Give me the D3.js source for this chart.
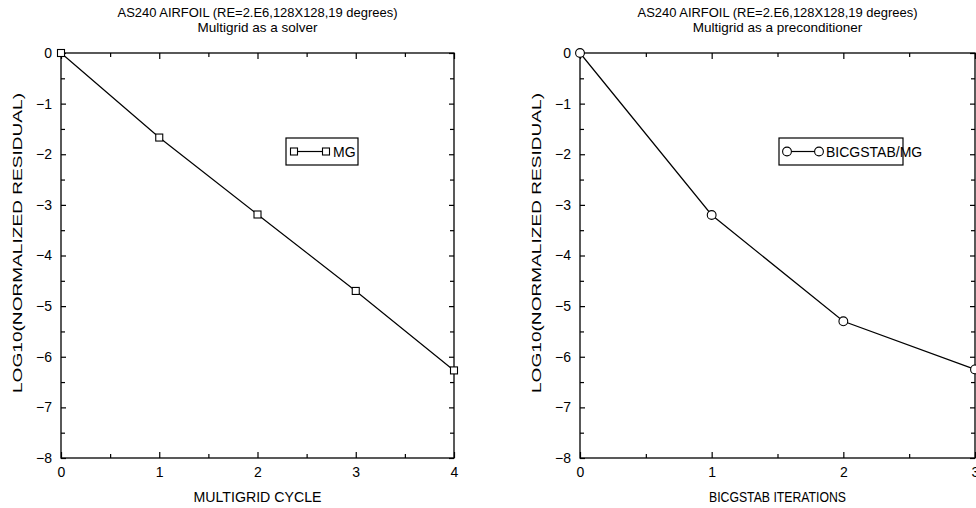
<!DOCTYPE html>
<html><head><meta charset="utf-8">
<script src="https://cdn.jsdelivr.net/npm/d3@7"></script>
<style>
body{margin:0;background:#fff;}
svg text{font-family:"Liberation Sans",Arial,Helvetica,sans-serif;fill:#000;}
</style></head>
<body><svg id="c" width="976" height="508"></svg>
<script>
// ---- data ----
const titleLine1 = "AS240 AIRFOIL (RE=2.E6,128X128,19 degrees)";
const leftSubtitle = "Multigrid as a solver";
const rightSubtitle = "Multigrid as a preconditioner";
const yLabel = "LOG10(NORMALIZED RESIDUAL)";
const leftXLabel = "MULTIGRID CYCLE";
const rightXLabel = "BICGSTAB ITERATIONS";
const leftLegend = "MG";
const rightLegend = "BICGSTAB/MG";
const mgCycles = [0, 1, 2, 3, 4];
const mgResidual = [0, -1.67, -3.19, -4.70, -6.27];
const bicgIters = [0, 1, 2, 3];
const bicgResidual = [0, -3.2, -5.3, -6.25];
const yTicks = [0, -1, -2, -3, -4, -5, -6, -7, -8];
const leftXTicks = [0, 1, 2, 3, 4];
const rightXTicks = [0, 1, 2, 3];

const svg = d3.select("#c");
const plotTop = 53, plotBottom = 458;

function panel(opts){
  const g = svg.append("g");
  const x = d3.scaleLinear().domain(opts.xDomain).range([opts.x0, opts.x1]);
  const y = d3.scaleLinear().domain([-8, 0]).range([plotBottom, plotTop]);
  const fmt = d => d < 0 ? "\u2212" + Math.abs(d) : String(d);
  const xMinor = d3.range(opts.xDomain[0] + 0.5, opts.xDomain[1], 1);
  const yMinor = d3.range(-7.5, 0, 1);

  g.append("rect").attr("x", opts.x0).attr("y", plotTop)
    .attr("width", opts.x1 - opts.x0).attr("height", plotBottom - plotTop)
    .attr("fill", "none").attr("stroke", "#000").attr("stroke-width", 1.3);

  const style = a => { a.select(".domain").remove();
    a.selectAll("line").attr("stroke", "#000").attr("stroke-width", 1.2);
    a.selectAll("text").attr("font-size", 14).attr("fill", "#000")
      .attr("font-family", "'Liberation Sans',Arial,sans-serif"); };

  g.append("g").attr("transform", `translate(0,${plotBottom})`)
    .call(d3.axisBottom(x).tickValues(opts.xTicks).tickFormat(fmt).tickSizeInner(-6).tickSizeOuter(0).tickPadding(9))
    .call(style);
  g.append("g").attr("transform", `translate(0,${plotBottom})`)
    .call(d3.axisBottom(x).tickValues(xMinor).tickFormat("").tickSizeInner(-4).tickSizeOuter(0)).call(style);
  g.append("g").attr("transform", `translate(0,${plotTop})`)
    .call(d3.axisTop(x).tickValues(opts.xTicks).tickFormat("").tickSizeInner(-6).tickSizeOuter(0)).call(style);
  g.append("g").attr("transform", `translate(0,${plotTop})`)
    .call(d3.axisTop(x).tickValues(xMinor).tickFormat("").tickSizeInner(-4).tickSizeOuter(0)).call(style);
  g.append("g").attr("transform", `translate(${opts.x0},0)`)
    .call(d3.axisLeft(y).tickValues(yTicks).tickFormat(fmt).tickSizeInner(-5).tickSizeOuter(0).tickPadding(9))
    .call(style);
  g.append("g").attr("transform", `translate(${opts.x0},0)`)
    .call(d3.axisLeft(y).tickValues(yMinor).tickFormat("").tickSizeInner(-4).tickSizeOuter(0)).call(style);
  g.append("g").attr("transform", `translate(${opts.x1},0)`)
    .call(d3.axisRight(y).tickValues(yTicks).tickFormat("").tickSizeInner(-5).tickSizeOuter(0)).call(style);
  g.append("g").attr("transform", `translate(${opts.x1},0)`)
    .call(d3.axisRight(y).tickValues(yMinor).tickFormat("").tickSizeInner(-4).tickSizeOuter(0)).call(style);

  const cx = (opts.x0 + opts.x1) / 2;
  g.append("text").attr("x", cx).attr("y", 17).attr("text-anchor", "middle").attr("font-size", 13.5)
    .attr("textLength", 280).attr("lengthAdjust", "spacingAndGlyphs").text(titleLine1);
  g.append("text").attr("x", cx).attr("y", 31.5).attr("text-anchor", "middle").attr("font-size", 13.5).text(opts.subtitle);
  g.append("text").attr("x", cx).attr("y", 502).attr("text-anchor", "middle").attr("font-size", 14.5)
    .attr("textLength", opts.xLabelLen).attr("lengthAdjust", "spacingAndGlyphs").text(opts.xLabel);
  g.append("text").attr("transform", `translate(${opts.yLabelX},243) rotate(-90)`)
    .attr("text-anchor", "middle").attr("font-size", 13.5)
    .attr("textLength", 300).attr("lengthAdjust", "spacingAndGlyphs").text(yLabel);

  const pts = opts.xs.map((v, i) => [v, opts.ys[i]]);
  g.append("path").datum(pts)
    .attr("d", d3.line().x(d => x(d[0])).y(d => y(d[1])))
    .attr("fill", "none").attr("stroke", "#000").attr("stroke-width", 1.2);
  drawMarkers(g, pts.map(d => [x(d[0]), y(d[1])]), opts.marker);

  const L = opts.legend;
  g.append("rect").attr("x", L.x).attr("y", L.y).attr("width", L.w).attr("height", 27)
    .attr("fill", "#fff").attr("stroke", "#000").attr("stroke-width", 1.2);
  const ly = L.y + 13.5;
  g.append("line").attr("x1", L.x + 8).attr("x2", L.x + 40).attr("y1", ly).attr("y2", ly)
    .attr("stroke", "#000").attr("stroke-width", 1.2);
  drawMarkers(g, [[L.x + 8, ly], [L.x + 40, ly]], opts.marker);
  g.append("text").attr("x", L.x + 47).attr("y", ly + 5).attr("font-size", 14).text(L.text);
}

function drawMarkers(g, pts, kind){
  pts.forEach(([px, py]) => {
    if (kind === "square") {
      g.append("rect").attr("x", px - 3.5).attr("y", py - 3.5).attr("width", 7).attr("height", 7)
        .attr("fill", "#fff").attr("stroke", "#000").attr("stroke-width", 1.1);
    } else {
      g.append("circle").attr("cx", px).attr("cy", py).attr("r", 4.4)
        .attr("fill", "#fff").attr("stroke", "#000").attr("stroke-width", 1.1);
    }
  });
}

panel({x0: 61, x1: 454, xDomain: [0, 4], xTicks: leftXTicks, subtitle: leftSubtitle, xLabel: leftXLabel, xLabelLen: 128,
  yLabelX: 22, xs: mgCycles, ys: mgResidual, marker: "square",
  legend: {x: 286, y: 138, w: 72, text: leftLegend}});
panel({x0: 580, x1: 975, xDomain: [0, 3], xTicks: rightXTicks, subtitle: rightSubtitle, xLabel: rightXLabel, xLabelLen: 137,
  yLabelX: 541, xs: bicgIters, ys: bicgResidual, marker: "circle",
  legend: {x: 779, y: 138, w: 124, text: rightLegend}});
</script></body></html>
